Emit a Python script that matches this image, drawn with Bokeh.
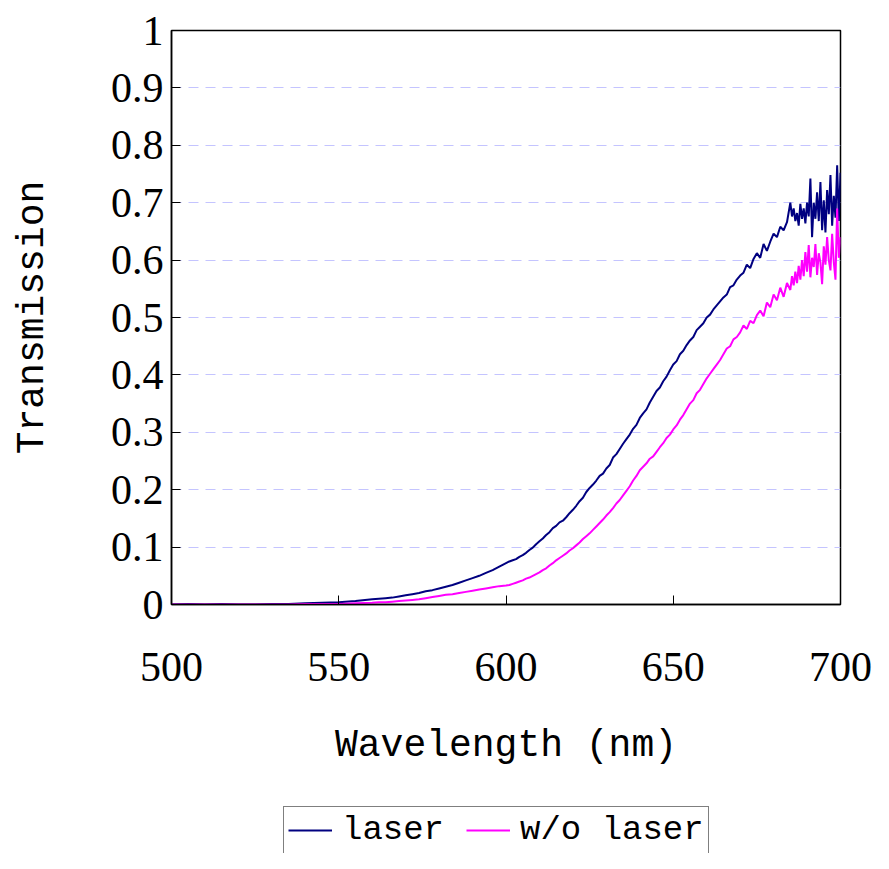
from bokeh.plotting import figure
from bokeh.models import Range1d, FixedTicker, Legend, LegendItem
from bokeh.layouts import column
from bokeh.embed import file_html
from bokeh.resources import INLINE

# ---------------- data ----------------
wl_low = [500, 505, 510, 515, 520, 525, 530, 535, 540, 545, 550, 555,
          560, 562, 564, 566, 568, 570, 572, 574, 576, 578, 580, 582, 584,
          586, 588, 590, 592, 594, 596, 598]
laser_low = [0.0, 0.001, 0.0, 0.001, 0.0, 0.0, 0.001, 0.001, 0.002, 0.003, 0.004, 0.006,
             0.009, 0.010, 0.011, 0.012, 0.014, 0.016, 0.018, 0.020, 0.023, 0.025,
             0.028, 0.031, 0.034, 0.038, 0.042, 0.046, 0.050, 0.055, 0.060, 0.066]
wo_low = [0.0, 0.0, 0.0, 0.0, 0.0, 0.0, 0.0, 0.0, 0.001, 0.001, 0.001, 0.002,
          0.003, 0.004, 0.004, 0.005, 0.006, 0.007, 0.008, 0.009, 0.011, 0.013,
          0.015, 0.017, 0.018, 0.020, 0.022, 0.024, 0.026, 0.028, 0.030, 0.032]

wl_mid = list(range(600, 685))  # 600 .. 684 nm, 1 nm steps
laser_mid = [0.072, 0.075, 0.077, 0.079, 0.083, 0.086, 0.090, 0.095, 0.099, 0.105,
             0.110, 0.115, 0.121, 0.126, 0.133, 0.137, 0.143, 0.146, 0.152, 0.159,
             0.165, 0.172, 0.180, 0.186, 0.196, 0.203, 0.209, 0.216, 0.224, 0.228,
             0.237, 0.243, 0.256, 0.262, 0.271, 0.280, 0.288, 0.296, 0.306, 0.313,
             0.325, 0.333, 0.340, 0.352, 0.362, 0.372, 0.378, 0.389, 0.397, 0.408,
             0.418, 0.424, 0.436, 0.442, 0.452, 0.460, 0.466, 0.478, 0.484, 0.490,
             0.500, 0.505, 0.514, 0.521, 0.528, 0.535, 0.540, 0.553, 0.556, 0.566,
             0.573, 0.578, 0.592, 0.586, 0.602, 0.612, 0.604, 0.628, 0.616, 0.632,
             0.646, 0.640, 0.658, 0.652, 0.666]
wo_mid = [0.033, 0.034, 0.036, 0.038, 0.040, 0.042, 0.045, 0.047, 0.050, 0.053,
          0.056, 0.060, 0.063, 0.068, 0.072, 0.077, 0.081, 0.085, 0.089, 0.094,
          0.098, 0.103, 0.108, 0.114, 0.119, 0.124, 0.130, 0.136, 0.142, 0.148,
          0.155, 0.161, 0.168, 0.176, 0.182, 0.190, 0.198, 0.206, 0.216, 0.224,
          0.234, 0.240, 0.246, 0.254, 0.258, 0.266, 0.274, 0.281, 0.290, 0.296,
          0.305, 0.312, 0.322, 0.330, 0.340, 0.350, 0.356, 0.368, 0.374, 0.384,
          0.394, 0.402, 0.410, 0.418, 0.426, 0.436, 0.446, 0.450, 0.462, 0.466,
          0.474, 0.486, 0.480, 0.494, 0.490, 0.504, 0.512, 0.502, 0.526, 0.518,
          0.540, 0.530, 0.552, 0.536, 0.560]

wl_tail = [685.0 + 0.5 * i for i in range(31)]  # 685.0 .. 700.0 nm
laser_tail = [0.700, 0.676, 0.690, 0.668, 0.682, 0.660, 0.698, 0.672, 0.690, 0.664,
              0.700, 0.676, 0.742, 0.640, 0.700, 0.672, 0.718, 0.668, 0.736, 0.652,
              0.704, 0.648, 0.722, 0.680, 0.748, 0.660, 0.712, 0.674, 0.765, 0.668,
              0.752]
wo_tail = [0.548, 0.572, 0.556, 0.580, 0.560, 0.590, 0.566, 0.600, 0.572, 0.614,
           0.580, 0.626, 0.570, 0.604, 0.588, 0.628, 0.574, 0.612, 0.596, 0.558,
           0.624, 0.592, 0.640, 0.600, 0.582, 0.646, 0.596, 0.566, 0.690, 0.604,
           0.640]

x_ticks = [500, 550, 600, 650, 700]
y_ticks = [0, 0.1, 0.2, 0.3, 0.4, 0.5, 0.6, 0.7, 0.8, 0.9, 1]
y_tick_labels = ["0", "0.1", "0.2", "0.3", "0.4", "0.5", "0.6", "0.7", "0.8", "0.9", "1"]
series_names = ["laser", "w/o laser"]
series_colors = ["#000080", "#ff00ff"]

wl = wl_low + wl_mid + wl_tail
laser = laser_low + laser_mid + laser_tail
wo = wo_low + wo_mid + wo_tail

# ---------------- main figure ----------------
TICK_FONT = "Liberation Serif"
TEXT_FONT = "Liberation Mono"

p = figure(width=873, height=805, output_backend="svg", toolbar_location=None,
           x_range=Range1d(500, 700), y_range=Range1d(0, 1),
           min_border_left=171, min_border_right=33, min_border_top=30,
           min_border_bottom=201)
p.background_fill_color = "white"
p.border_fill_color = "white"
p.outline_line_color = "black"
p.outline_line_width = 1.5

r1 = p.line(wl, laser, line_color=series_colors[0], line_width=2)
r2 = p.line(wl, wo, line_color=series_colors[1], line_width=2)

p.xgrid.grid_line_color = None
p.ygrid.grid_line_color = "#c4c4ff"
p.ygrid.grid_line_dash = "10 7"
p.ygrid.grid_line_width = 1

p.xaxis.ticker = FixedTicker(ticks=x_ticks)
p.yaxis.ticker = FixedTicker(ticks=y_ticks)
p.yaxis.major_label_overrides = {t: s for t, s in zip(y_ticks, y_tick_labels)}

for ax in (p.xaxis, p.yaxis):
    ax.axis_line_color = "black"
    ax.axis_line_width = 1.5
    ax.major_tick_in = 9
    ax.major_tick_out = 0
    ax.major_tick_line_color = "black"
    ax.minor_tick_line_color = None
    ax.major_label_text_font = TICK_FONT
    ax.major_label_text_font_size = "42px"
    ax.major_label_text_color = "black"
    ax.axis_label_text_font = TEXT_FONT
    ax.axis_label_text_font_size = "38px"
    ax.axis_label_text_font_style = "normal"
    ax.axis_label_text_color = "black"

p.xaxis.axis_label = "Wavelength (nm)"
p.yaxis.axis_label = "Transmission"
p.xaxis.major_label_standoff = 48
p.xaxis.axis_label_standoff = 40
p.yaxis.major_label_standoff = 8
p.yaxis.axis_label_standoff = 54

# ---------------- legend strip (bottom of the page) ----------------
q = figure(width=873, height=48, output_backend="svg", toolbar_location=None,
           x_axis_type=None, y_axis_type=None, min_border=0,
           x_range=Range1d(0, 1), y_range=Range1d(0, 1))
q.outline_line_color = None
q.grid.grid_line_color = None
q.background_fill_color = "white"
q.border_fill_color = "white"
# same series, outside this strip's ranges: only their legend glyphs show
lr1 = q.line(wl, laser, line_color=series_colors[0], line_width=2)
lr2 = q.line(wl, wo, line_color=series_colors[1], line_width=2)

legend = Legend(items=[LegendItem(label=series_names[0], renderers=[lr1]),
                       LegendItem(label=series_names[1], renderers=[lr2])],
                orientation="horizontal", location=(112, -1))
legend.label_text_font = TEXT_FONT
legend.label_text_font_size = "34px"
legend.label_text_color = "black"
legend.glyph_width = 44
legend.glyph_height = 30
legend.label_standoff = 10
legend.spacing = 22
legend.padding = 4
legend.margin = 0
legend.border_line_color = "black"
legend.border_line_width = 1
legend.background_fill_alpha = 1.0
q.add_layout(legend, "center")

layout = column(p, q, spacing=0)
open("out.html", "w").write(file_html(layout, INLINE))
